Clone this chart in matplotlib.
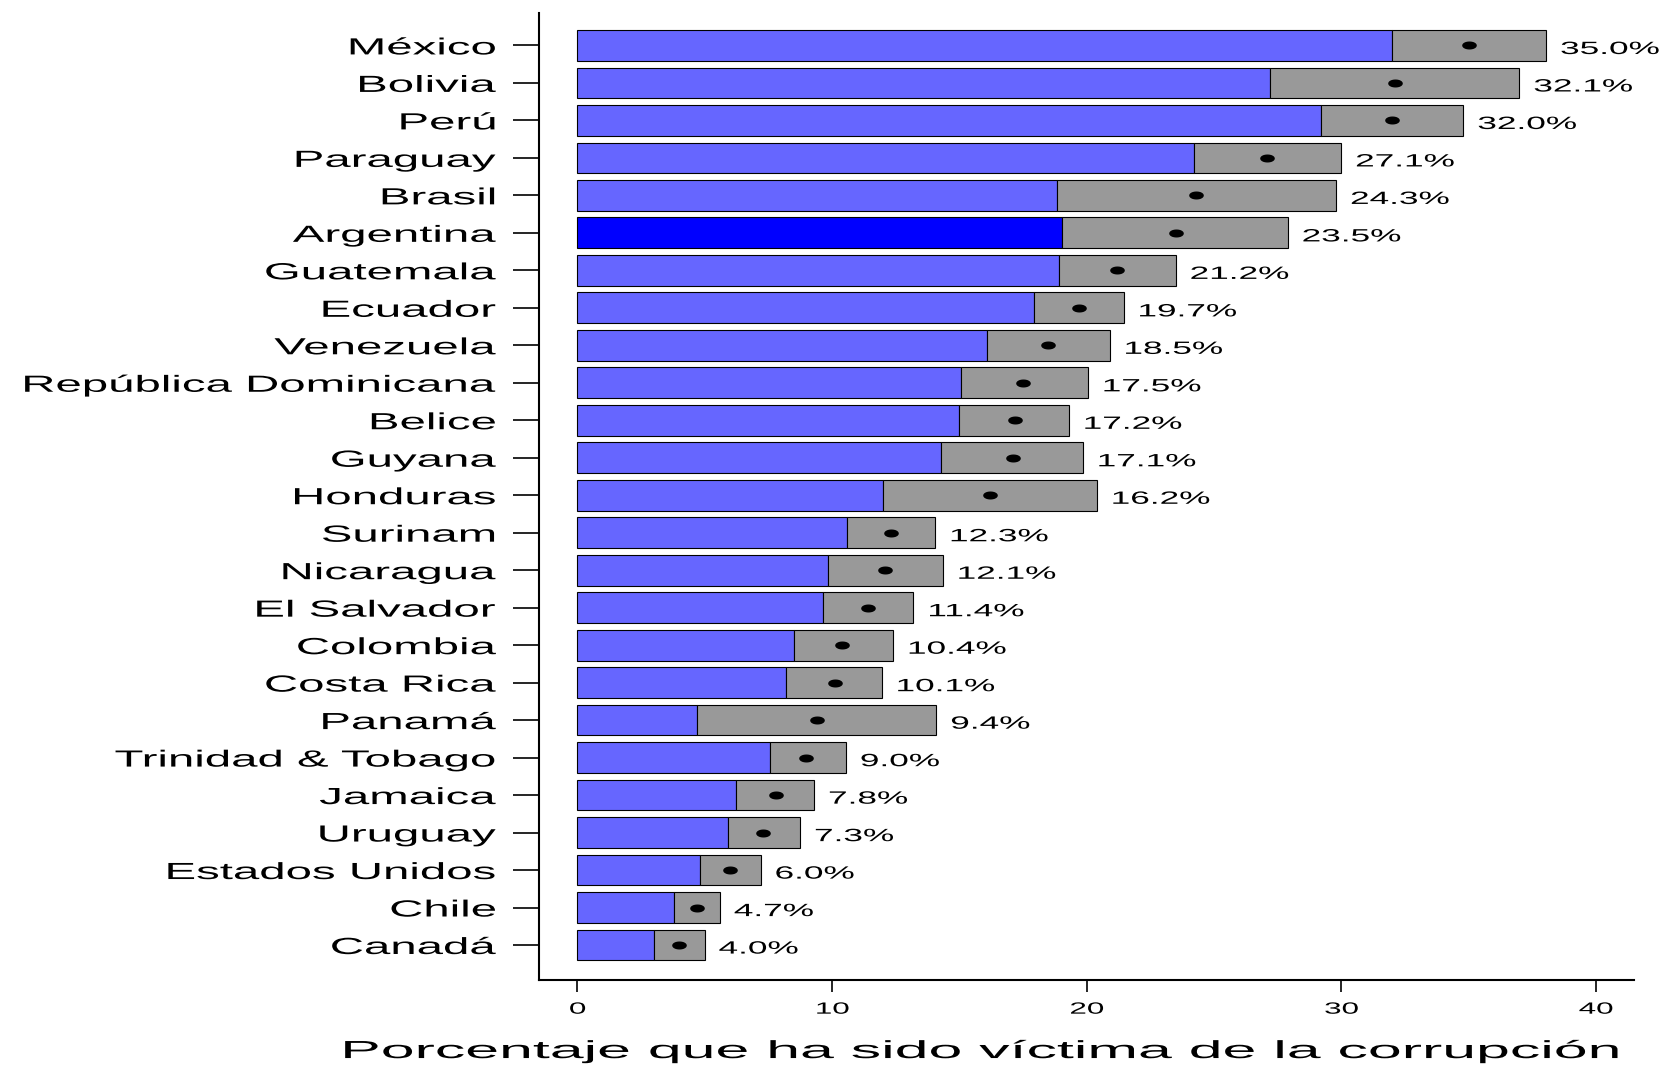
import numpy as np
import matplotlib
matplotlib.use("Agg")
import matplotlib.pyplot as plt
from matplotlib.path import Path
from matplotlib.transforms import Affine2D
from matplotlib.patheffects import AbstractPathEffect

# Datos (porcentaje, intervalo de confianza)
paises = ['México', 'Bolivia', 'Perú', 'Paraguay', 'Brasil', 'Argentina',
          'Guatemala', 'Ecuador', 'Venezuela', 'República Dominicana', 'Belice',
          'Guyana', 'Honduras', 'Surinam', 'Nicaragua', 'El Salvador',
          'Colombia', 'Costa Rica', 'Panamá', 'Trinidad & Tobago', 'Jamaica',
          'Uruguay', 'Estados Unidos', 'Chile', 'Canadá']
valor = [35.0, 32.1, 32.0, 27.1, 24.3, 23.5, 21.2, 19.7, 18.5, 17.5, 17.2,
         17.1, 16.2, 12.3, 12.1, 11.4, 10.4, 10.1, 9.4, 9.0, 7.8, 7.3, 6.0,
         4.7, 4.0]
inferior = [32.0, 27.2, 29.2, 24.2, 18.85, 19.05, 18.9, 17.95, 16.1, 15.05,
            15.0, 14.3, 12.0, 10.6, 9.85, 9.65, 8.5, 8.2, 4.7, 7.55, 6.25,
            5.9, 4.8, 3.8, 3.0]
superior = [38.05, 37.0, 34.8, 30.0, 29.8, 27.9, 23.5, 21.45, 20.9, 20.05,
            19.3, 19.85, 20.4, 14.05, 14.35, 13.2, 12.4, 11.95, 14.1, 10.55,
            9.3, 8.75, 7.2, 5.6, 5.0]
destacado = 'Argentina'

plt.rcParams['font.family'] = ['Liberation Sans', 'DejaVu Sans']


class Estirar(AbstractPathEffect):
    """Ensancha el texto en horizontal alrededor de su ancla."""

    def __init__(self, sx=2.0, ancla='left'):
        super().__init__()
        self.sx = sx
        self.ancla = ancla

    def draw_path(self, renderer, gc, tpath, affine, rgbFace=None):
        xs = tpath.vertices[:, 0]
        if len(xs) == 0:
            renderer.draw_path(gc, tpath, affine, rgbFace)
            return
        if self.ancla == 'right':
            x0 = np.nanmax(xs)
        elif self.ancla == 'center':
            x0 = (np.nanmin(xs) + np.nanmax(xs)) / 2
        else:
            x0 = 0.0
        t = Affine2D().translate(-x0, 0).scale(self.sx, 1).translate(x0, 0)
        renderer.draw_path(gc, tpath, t + affine, rgbFace)


# marcador eliptico (los puntos se ven achatados)
ang = np.linspace(0, 2 * np.pi, 40)
elipse = Path(np.column_stack([np.cos(ang), 0.5 * np.sin(ang)]), closed=True)

n = len(paises)
y = np.arange(n)[::-1]
inferior = np.array(inferior)
superior = np.array(superior)

fig = plt.figure(figsize=(16.64, 10.68), dpi=100)
ax = fig.add_axes([0.324, 0.0824, 0.658, 0.9056])

colores = ['#0000ff' if p == destacado else '#6666ff' for p in paises]
ax.barh(y, inferior, height=0.82, color=colores, edgecolor='black', linewidth=0.8)
ax.barh(y, superior - inferior, left=inferior, height=0.82, color='#999999',
        edgecolor='black', linewidth=0.8)
ax.plot(valor, y, linestyle='none', marker=elipse, markersize=9.5, color='black')

etiquetas = []
for yi, v, s in zip(y, valor, superior):
    t = ax.annotate(f'{v:.1f}%', (s, yi), xytext=(10, -1.5), textcoords='offset points',
                    ha='left', va='center_baseline', fontsize=12.8)
    etiquetas.append(t)

ax.set_xlim(-1.5, 41.5)
ax.set_ylim(-0.934, 24.87)
ax.set_xticks([0, 10, 20, 30, 40])
ax.set_yticks(y, labels=paises)

for lado in ['top', 'right']:
    ax.spines[lado].set_visible(False)
for lado in ['left', 'bottom']:
    ax.spines[lado].set_linewidth(1.5)

ax.tick_params(axis='y', length=19, width=1.2, pad=12, labelsize=16.8)
ax.tick_params(axis='x', length=8.6, width=1.2, pad=7, labelsize=11.7)

ax.set_xlabel('Porcentaje que ha sido víctima de la corrupción', fontsize=17.8)
ax.xaxis.label.set_va('baseline')
ax.xaxis.set_label_coords(0.402, -0.0807)

# texto ensanchado como en la imagen original
for lbl in ax.get_yticklabels():
    lbl.set_path_effects([Estirar(2.03, 'right')])
for lbl in ax.get_xticklabels():
    lbl.set_path_effects([Estirar(1.93, 'center')])
for t in etiquetas:
    t.set_path_effects([Estirar(1.98, 'left')])
ax.xaxis.label.set_path_effects([Estirar(2.46, 'center')])

fig.savefig('out.png', dpi=100)
